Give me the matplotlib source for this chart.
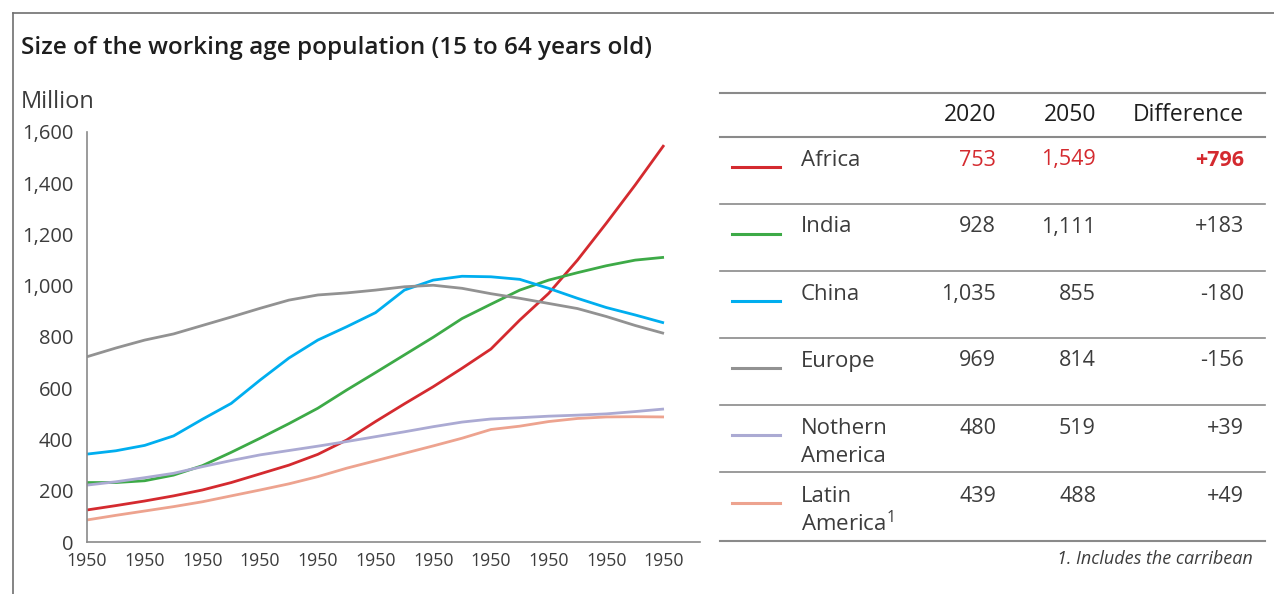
import matplotlib
matplotlib.use("Agg")
import matplotlib.pyplot as plt
from matplotlib.lines import Line2D

plt.rcParams["font.family"] = ["Open Sans", "DejaVu Sans"]
plt.rcParams["mathtext.default"] = "regular"

W, H = 1274, 594

years = list(range(1950, 2051, 5))
africa = [125, 142, 160, 180, 203, 232, 266, 300, 342, 398, 470,
          539, 606, 678, 753, 866, 970, 1100, 1244, 1393, 1549]
india = [232, 232, 239, 261, 298, 350, 405, 462, 522, 593, 661,
         730, 799, 872, 928, 983, 1022, 1051, 1078, 1100, 1111]
china = [343, 356, 377, 414, 479, 541, 632, 718, 788, 840, 895,
         983, 1022, 1037, 1035, 1025, 990, 951, 915, 886, 855]
europe = [723, 757, 788, 812, 845, 878, 912, 944, 964, 972, 983,
          996, 1002, 990, 969, 951, 931, 911, 880, 845, 814]
n_america = [222, 235, 251, 268, 294, 318, 340, 357, 374, 392, 411,
             430, 450, 468, 480, 485, 491, 495, 500, 509, 519]
latin_america = [86, 104, 121, 138, 157, 180, 203, 227, 255, 288, 317,
                 346, 375, 405, 439, 452, 470, 482, 488, 489, 488]

tick_years = list(range(1950, 2051, 10))
tick_labels = ["1950"] * len(tick_years)
y_ticks = [0, 200, 400, 600, 800, 1000, 1200, 1400, 1600]

regions = ["Africa", "India", "China", "Europe", "Nothern\nAmerica", "Latin\nAmerica$^1$"]
pop_2020 = [753, 928, 1035, 969, 480, 439]
pop_2050 = [1549, 1111, 855, 814, 519, 488]
difference = [796, 183, -180, -156, 39, 49]

RED = "#d42a2f"
COLORS = [RED, "#3daa47", "#00aeef", "#929292", "#abaad3", "#eda38f"]
SERIES = [africa, india, china, europe, n_america, latin_america]
TXT = "#3c3c3c"
RULE = "#8a8a8a"


def fx(x):
    return x / W


def fy(y):
    return 1 - y / H


fig = plt.figure(figsize=(W / 100, H / 100), dpi=100)

# outer frame (left and top edges only)
fig.add_artist(Line2D([fx(13), fx(13)], [fy(H), fy(13)], color="#707070", lw=1.2))
fig.add_artist(Line2D([fx(13), fx(W)], [fy(13), fy(13)], color="#707070", lw=1.2))

fig.text(fx(21), fy(48), "Size of the working age population (15 to 64 years old)",
         fontsize=17.5, fontweight="semibold", color="#1e1e1e", va="center", ha="left")
fig.text(fx(21), fy(102), "Million", fontsize=17,
         color=TXT, va="center", ha="left")

ax = fig.add_axes([fx(87), fy(542), fx(700) - fx(87), fy(132) - fy(542)])
for s, c in zip(SERIES, COLORS):
    ax.plot(years, s, color=c, lw=2.0, solid_capstyle="butt")

ax.set_xlim(1950, 1950 + (700 - 87) / 57.7 * 10)
ax.set_ylim(0, 1600)
ax.set_xticks(tick_years)
ax.set_xticklabels(tick_labels)
ax.set_yticks(y_ticks)
ax.set_yticklabels([f"{v:,}" for v in y_ticks])
ax.tick_params(length=0, labelsize=14.5, labelcolor=TXT)
ax.tick_params(axis="y", pad=10)
ax.tick_params(axis="x", labelsize=12.8, pad=7)
for side in ["top", "right"]:
    ax.spines[side].set_visible(False)
for side in ["left", "bottom"]:
    ax.spines[side].set_color(RULE)
    ax.spines[side].set_linewidth(1.2)

# summary table on the right
rules = [93, 137, 204, 271, 338, 405, 472, 541]
for i, y in enumerate(rules):
    fig.add_artist(Line2D([fx(720), fx(1265)], [fy(y), fy(y)], color=RULE,
                          lw=1.5 if i in (0, 1, len(rules) - 1) else 1.2))

header_y = 115
for x, t in [(996, "2020"), (1096, "2050"), (1244, "Difference")]:
    fig.text(fx(x), fy(header_y), t, fontsize=16.5, color="#1e1e1e",
             ha="right", va="center")

row_y = [160, 227, 294, 361, 428, 496]
for i, name in enumerate(regions):
    y = row_y[i]
    fig.add_artist(Line2D([fx(732), fx(780)], [fy(y + 7), fy(y + 7)],
                          color=COLORS[i], lw=2.2))
    for k, part in enumerate(name.split("\n")):
        fig.text(fx(801), fy(y + 28 * k), part, fontsize=16,
                 color=TXT, ha="left", va="center")
    num_color = RED if i == 0 else TXT
    fig.text(fx(996), fy(y), f"{pop_2020[i]:,}", fontsize=15.5,
             color=num_color, ha="right", va="center")
    fig.text(fx(1096), fy(y), f"{pop_2050[i]:,}", fontsize=15.5,
             color=num_color, ha="right", va="center")
    d = difference[i]
    fig.text(fx(1244), fy(y), f"+{d}" if d > 0 else f"{d}", fontsize=15.5,
             fontweight="bold" if i == 0 else "normal", color=num_color,
             ha="right", va="center")

fig.text(fx(1253), fy(559), "1. Includes the carribean", fontsize=13,
         style="italic", color=TXT, ha="right", va="center")

fig.savefig("out.png", dpi=100)
